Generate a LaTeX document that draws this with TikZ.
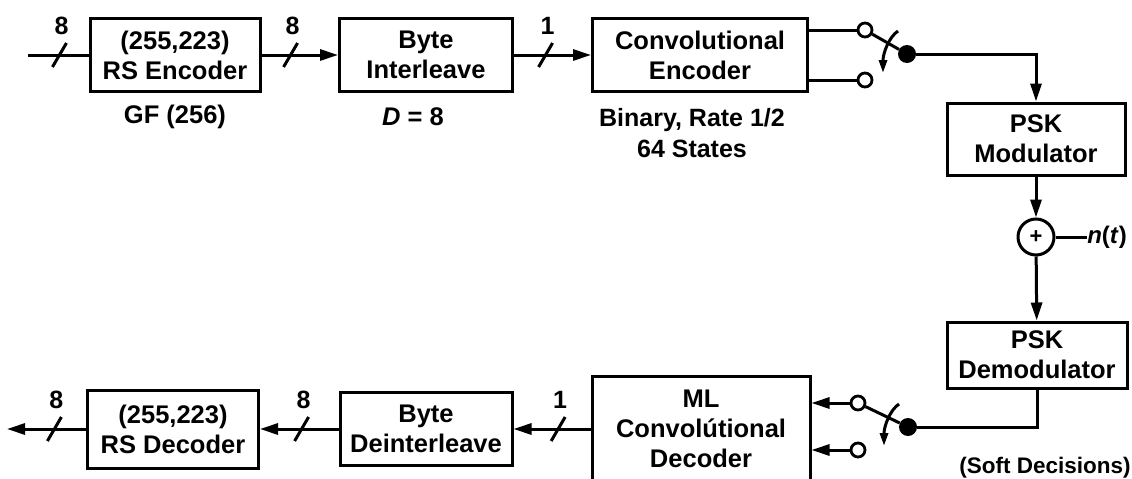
\documentclass[tikz,border=0pt]{standalone}
\usepackage{fontspec}
\setmainfont{Liberation Sans}
\usetikzlibrary{arrows.meta,calc,positioning}
\newcommand{\blkfont}{\fontsize{25.5}{30}\selectfont\bfseries}
\newcommand{\busfont}{\fontsize{25}{28}\selectfont\bfseries}
\tikzset{
  box/.style   = {draw, line width=3pt, fill=white, align=center, inner sep=0pt,
                  font=\blkfont},
  wire/.style  = {line width=3pt},
  sig/.style   = {wire, -{Triangle[length=18pt,width=11pt]}},
  tog/.style   = {wire, -{Triangle[length=13pt,width=8pt]}},
  dot/.style   = {circle, fill=black, inner sep=0pt, minimum size=18pt},
  odot/.style  = {circle, draw, line width=2.8pt, fill=white, inner sep=0pt, minimum size=14pt},
  lbl/.style   = {font=\blkfont, align=center, inner sep=0pt},
  pics/bus/.style = {code={
      \draw[wire,-] (-7,12) -- (7,-12);
      \node[font=\busfont, inner sep=0pt] at (2,-29) {#1};}},
}

\begin{document}
\begin{tikzpicture}[x=1pt, y=-1pt]
  \useasboundingbox (0,0) rectangle (1132,479);

  % transmitter
  \coordinate (in) at (28,55);
  \node[box, minimum width=170pt, minimum height=73pt] (rsenc) at (175,55) {(255,223)\\RS Encoder};
  \node[box, minimum width=173pt, minimum height=73pt] (inter) at (426,55) {Byte\\Interleave};
  \node[box, minimum width=215pt, minimum height=73pt] (convenc) at (700,55) {Convolutional\\Encoder};
  \node[lbl] (gf) at (175,117) {GF (256)};
  \node[lbl] (depth) at (413,117) {\textit{D} = 8};
  \node[lbl, font=\fontsize{25}{31}\selectfont\bfseries] (rate) at (692,133) {Binary, Rate 1/2\\64 States};

  \draw[wire] (in) -- pic[pos=0.52]{bus=8} (rsenc);
  \draw[sig] (rsenc) -- pic[pos=0.38]{bus=8} (inter);
  \draw[sig] (inter) -- pic[pos=0.41]{bus=1} (convenc);

  % switch after the encoder
  \node[odot] (swa1) at (865,30) {};
  \node[odot] (swa2) at (865,80) {};
  \node[dot] (swad) at (907,54) {};
  \draw[wire] (convenc.east |- swa1) -- (swa1);
  \draw[wire] (convenc.east |- swa2) -- (swa2);
  \draw[wire] (swad) -- (swa1);
  \draw[tog] ($(swad)+(-9,-23)$) .. controls +(-9,6) and +(0,-20) .. ($(swad)+(-24,19)$);

  % channel
  \node[box, minimum width=178pt, minimum height=72pt] (psmod) at (1036,139) {PSK\\Modulator};
  \node[circle, draw, wire, minimum size=36pt, inner sep=0pt, font=\fontsize{22}{24}\selectfont\bfseries] (sum) at (1036,237) {+};
  \node[lbl, font=\fontsize{24}{26}\selectfont\bfseries] (noise) at (1107,237) {\textit{n}(\textit{t})};
  \node[box, minimum width=180pt, minimum height=66pt] (psdem) at (1037,355) {PSK\\Demodulator};
  \node[lbl, font=\fontsize{22.5}{26}\selectfont\bfseries] (soft) at (1045,468) {(Soft Decisions)};

  \draw[sig] (swad) -| (psmod);
  \draw[sig] (psmod) -- (sum);
  \draw[wire] (sum) -- (noise);
  \draw[sig] (sum) -- (psdem);

  % receiver
  \node[box, minimum width=218pt, minimum height=106pt] (mldec) at (701,429) {ML\\Convol\'utional\\Decoder};
  \node[box, minimum width=172pt, minimum height=73pt] (deinter) at (426,429) {Byte\\Deinterleave};
  \node[box, minimum width=171pt, minimum height=78pt] (rsdec) at (173,429) {(255,223)\\RS Decoder};
  \coordinate (out) at (7,429);

  \node[odot] (swb1) at (858,403) {};
  \node[odot] (swb2) at (858,450) {};
  \node[dot] (swbd) at (908,427) {};
  \draw[wire] (psdem) |- (swbd);
  \draw[wire] (swbd) -- (swb1);
  \draw[sig] (swb1) -- (swb1 -| mldec.east);
  \draw[sig] (swb2) -- (swb2 -| mldec.east);
  \draw[tog] ($(swbd)+(-9,-23)$) .. controls +(-9,6) and +(0,-20) .. ($(swbd)+(-24,19)$);

  \draw[sig] (mldec.west |- deinter) -- pic[pos=0.42]{bus=1} (deinter);
  \draw[sig] (deinter) -- pic[pos=0.47]{bus=8} (rsdec);
  \draw[sig] (rsdec) -- pic[pos=0.4]{bus=8} (out);
\end{tikzpicture}
\end{document}
